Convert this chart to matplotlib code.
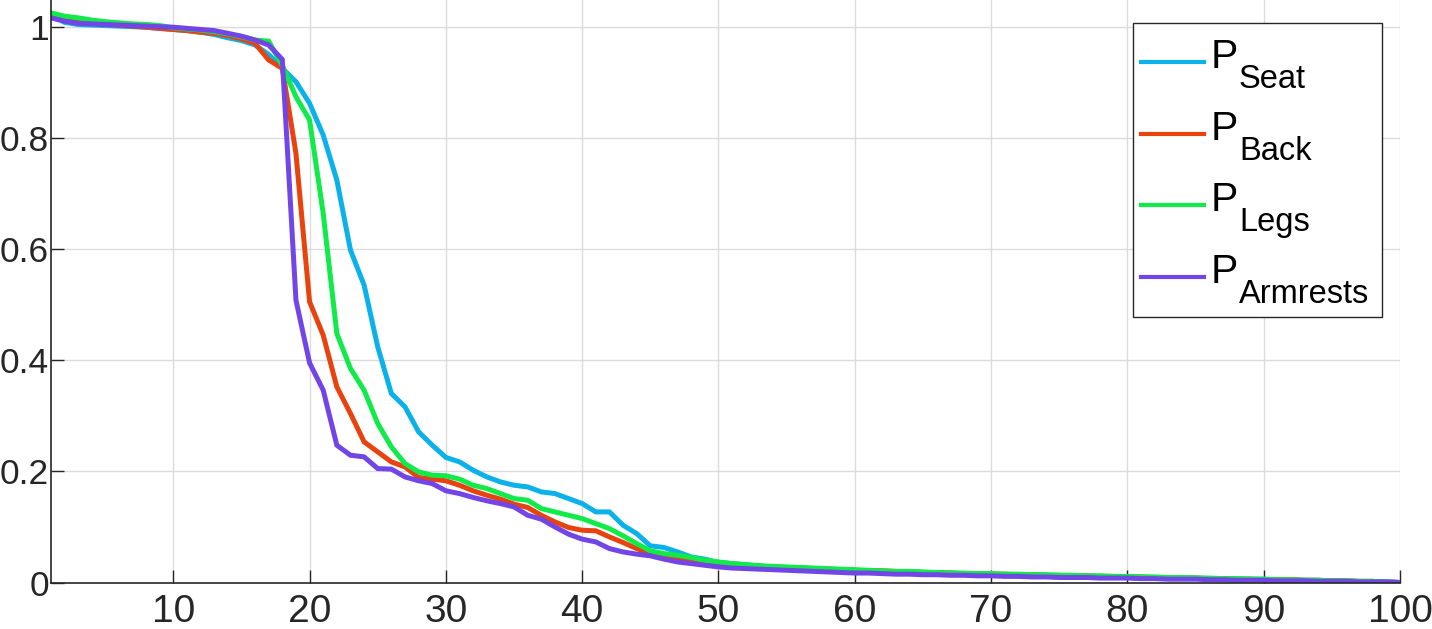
import matplotlib
matplotlib.use("Agg")
import matplotlib.pyplot as plt
from matplotlib.lines import Line2D
from matplotlib.patches import Rectangle
import numpy as np

x = list(range(1, 101))

p_seat = [1.022, 1.008, 1.004, 1.003, 1.002, 1.001, 1.000, 0.999, 0.997, 0.995,
          0.993, 0.990, 0.986, 0.980, 0.975, 0.967, 0.950, 0.925, 0.901, 0.862,
          0.805, 0.724, 0.598, 0.535, 0.424, 0.340, 0.316, 0.271, 0.247, 0.225,
          0.217, 0.202, 0.190, 0.181, 0.175, 0.172, 0.163, 0.160, 0.151, 0.142,
          0.127, 0.127, 0.103, 0.088, 0.066, 0.063, 0.055, 0.046, 0.042, 0.036,
          0.034, 0.032, 0.030, 0.028, 0.027, 0.026, 0.025, 0.024, 0.023, 0.022,
          0.021, 0.020, 0.019, 0.019, 0.018, 0.017, 0.017, 0.016, 0.015, 0.015,
          0.014, 0.014, 0.013, 0.013, 0.012, 0.012, 0.011, 0.011, 0.010, 0.010,
          0.009, 0.009, 0.009, 0.008, 0.008, 0.007, 0.007, 0.006, 0.006, 0.006,
          0.005, 0.005, 0.004, 0.004, 0.003, 0.003, 0.002, 0.002, 0.001, 0.000]

p_back = [1.018, 1.012, 1.008, 1.006, 1.004, 1.003, 1.001, 0.999, 0.997, 0.995,
          0.993, 0.990, 0.988, 0.984, 0.978, 0.970, 0.940, 0.925, 0.772, 0.505,
          0.445, 0.352, 0.304, 0.253, 0.235, 0.217, 0.208, 0.189, 0.186, 0.183,
          0.175, 0.165, 0.157, 0.150, 0.141, 0.135, 0.121, 0.109, 0.099, 0.094,
          0.093, 0.082, 0.072, 0.061, 0.052, 0.046, 0.043, 0.040, 0.037, 0.034,
          0.032, 0.030, 0.029, 0.028, 0.027, 0.026, 0.025, 0.024, 0.023, 0.022,
          0.021, 0.021, 0.020, 0.019, 0.018, 0.018, 0.017, 0.016, 0.016, 0.015,
          0.015, 0.014, 0.014, 0.013, 0.013, 0.012, 0.012, 0.011, 0.011, 0.010,
          0.010, 0.009, 0.009, 0.008, 0.008, 0.007, 0.007, 0.006, 0.006, 0.005,
          0.005, 0.005, 0.004, 0.004, 0.003, 0.003, 0.002, 0.002, 0.001, 0.000]

p_legs = [1.025, 1.019, 1.016, 1.012, 1.009, 1.007, 1.005, 1.004, 1.002, 0.998,
          0.996, 0.994, 0.991, 0.987, 0.982, 0.976, 0.974, 0.930, 0.874, 0.832,
          0.664, 0.448, 0.385, 0.346, 0.286, 0.244, 0.214, 0.199, 0.193, 0.192,
          0.186, 0.175, 0.169, 0.160, 0.151, 0.148, 0.133, 0.127, 0.121, 0.115,
          0.106, 0.097, 0.084, 0.070, 0.057, 0.052, 0.049, 0.045, 0.040, 0.037,
          0.034, 0.032, 0.030, 0.029, 0.028, 0.027, 0.026, 0.025, 0.024, 0.023,
          0.022, 0.021, 0.020, 0.020, 0.019, 0.018, 0.017, 0.017, 0.016, 0.016,
          0.015, 0.015, 0.014, 0.014, 0.013, 0.013, 0.012, 0.012, 0.011, 0.011,
          0.010, 0.010, 0.009, 0.009, 0.008, 0.008, 0.007, 0.007, 0.006, 0.006,
          0.005, 0.005, 0.004, 0.004, 0.003, 0.003, 0.002, 0.002, 0.001, 0.000]

p_armrests = [1.016, 1.010, 1.006, 1.005, 1.004, 1.003, 1.002, 1.001, 1.000, 0.999,
              0.997, 0.995, 0.993, 0.988, 0.983, 0.976, 0.967, 0.941, 0.508, 0.395,
              0.346, 0.247, 0.229, 0.226, 0.205, 0.204, 0.190, 0.183, 0.178, 0.165,
              0.160, 0.153, 0.147, 0.142, 0.136, 0.121, 0.114, 0.100, 0.087, 0.078,
              0.073, 0.061, 0.055, 0.051, 0.048, 0.042, 0.037, 0.034, 0.031, 0.028,
              0.026, 0.025, 0.024, 0.023, 0.022, 0.021, 0.020, 0.019, 0.018, 0.017,
              0.017, 0.016, 0.015, 0.015, 0.014, 0.014, 0.013, 0.013, 0.012, 0.012,
              0.011, 0.011, 0.010, 0.010, 0.009, 0.009, 0.009, 0.008, 0.008, 0.008,
              0.007, 0.007, 0.006, 0.006, 0.006, 0.005, 0.005, 0.004, 0.004, 0.004,
              0.003, 0.003, 0.003, 0.002, 0.002, 0.002, 0.001, 0.001, 0.001, 0.000]

legend_main = ["P", "P", "P", "P"]
legend_subs = ["Seat", "Back", "Legs", "Armrests"]
series_colors = ["#0BB1E9", "#E8430E", "#10EB4A", "#7246E6"]

xticks = [10, 20, 30, 40, 50, 60, 70, 80, 90, 100]
yticks = [0, 0.2, 0.4, 0.6, 0.8, 1.0]
ytick_labels = ["0", "0.2", "0.4", "0.6", "0.8", "1"]

plt.rcParams['font.family'] = ['Liberation Sans', 'DejaVu Sans']

W, H = 1432, 629
fig = plt.figure(figsize=(W / 100, H / 100), dpi=100)
ax = fig.add_axes([50.6 / W, 46.5 / H, (1400 - 50.6) / W, 582.5 / H])

for vals, col in zip([p_seat, p_back, p_legs, p_armrests], series_colors):
    ax.plot(x, vals, color=col, lw=3.6, solid_joinstyle='miter')

ax.set_xlim(1, 100)
ax.set_ylim(0, 1.048)
ax.set_xticks(xticks)
ax.set_yticks(yticks)
ax.set_yticklabels(ytick_labels)
ax.grid(True, color='#DCDCDC', lw=1.0)
ax.set_axisbelow(True)
for s in ['top', 'right']:
    ax.spines[s].set_visible(False)
for s in ['left', 'bottom']:
    ax.spines[s].set_color('#262626')
    ax.spines[s].set_linewidth(1.2)
ax.tick_params(direction='in', length=9.5, width=1.0, colors='#262626',
               labelcolor='#262626')
ax.tick_params(axis='x', pad=8, labelsize=28)
ax.tick_params(axis='y', pad=1.2, labelsize=25.5)


def fx(px):
    return px / W


def fy(py):
    return 1 - py / H


# legend (drawn in figure pixel positions)
box = Rectangle((fx(1133.3), fy(316.7)), fx(1381.7) - fx(1133.3), fy(22.7) - fy(316.7),
                transform=fig.transFigure, facecolor='white', edgecolor='#262626',
                lw=1.0, zorder=5)
fig.patches.append(box)
row_y = [62.3, 134.3, 205.0, 276.7]
for ry, main, sub, col in zip(row_y, legend_main, legend_subs, series_colors):
    fig.add_artist(Line2D([fx(1141), fx(1204.3)], [fy(ry), fy(ry)], color=col, lw=3.0,
                          transform=fig.transFigure, zorder=6))
    fig.text(fx(1211), fy(ry + 6.0), main, fontsize=29.5, color='black',
             ha='left', va='baseline', zorder=6)
    fig.text(fx(1239), fy(ry + 26.0), sub, fontsize=23.5, color='black',
             ha='left', va='baseline', zorder=6)

fig.savefig("out.png", dpi=100)
